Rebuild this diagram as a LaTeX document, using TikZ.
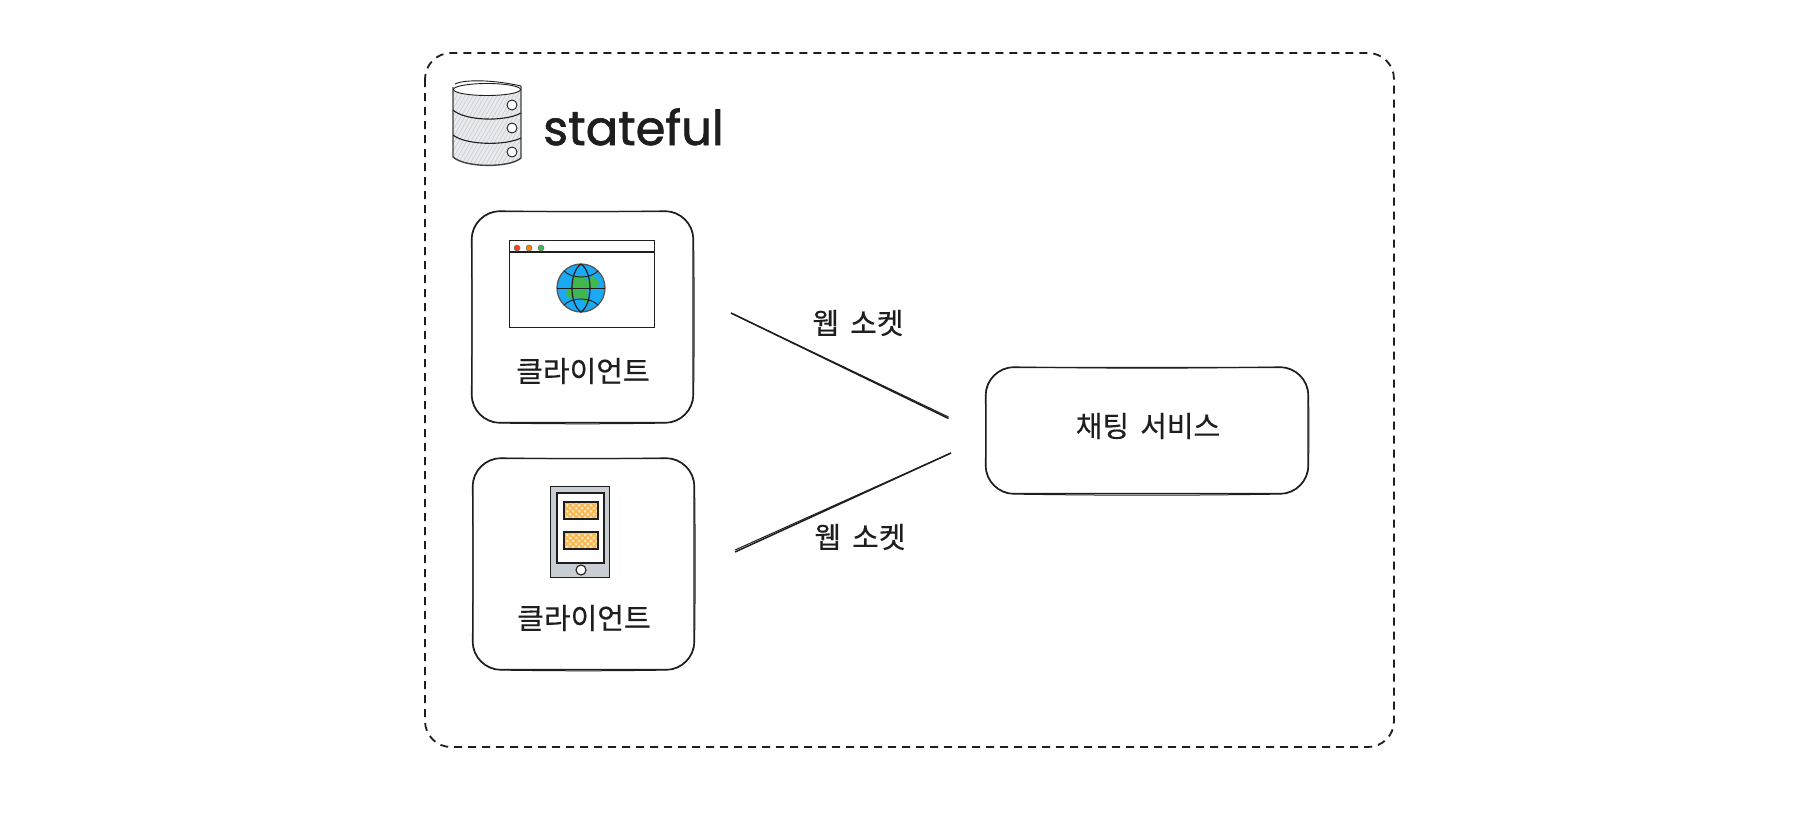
\documentclass[tikz,border=0pt]{standalone}
\usepackage{fontspec}
\setmainfont{Noto Sans CJK KR}[FakeBold=0.35,WordSpace=1.7]
\newfontfamily\handfont{Poppins}[FakeBold=1.3]
\usetikzlibrary{patterns.meta}
\definecolor{ink}{HTML}{1E1E1E}
\definecolor{grayfill}{HTML}{C9CED4}
\definecolor{skyfill}{HTML}{1AA9F4}
\definecolor{landfill}{HTML}{40B84F}
\definecolor{amberfill}{HTML}{F8B84E}
\tikzset{
  x=1pt,y=-1pt,
  sketch/.style={draw=ink,line width=1.2pt,rounded corners=28pt},
  overpass/.style={draw=ink,line width=1pt},
  cardbox/.style={sketch,minimum width=221pt,minimum height=211pt,inner sep=0pt},
  servicebox/.style={sketch,minimum width=322pt,minimum height=126pt,inner sep=0pt},
  zone/.style={draw=ink,line width=1.8pt,dash pattern=on 8pt off 6pt,rounded corners=26pt},
  label/.style={font=\fontsize{29}{33}\selectfont,text=ink,inner sep=0pt},
  wire/.style={draw=ink,line width=1.5pt},
  wirepass/.style={draw=ink,line width=1pt},
  icon/.style={draw=ink,line width=0.9pt},
}
% second, slightly bowed pen stroke round a named box
\newcommand{\roughbox}[1]{%
  \draw[overpass] ([xshift=28pt]#1.north west) to[bend right=0.9] ([xshift=-28pt]#1.north east)
    .. controls +(15,0) and +(0,-15) .. ([yshift=-28pt]#1.north east)
    to[bend left=0.7] ([yshift=28pt]#1.south east)
    .. controls +(0,15) and +(15,0) .. ([xshift=-28pt]#1.south east)
    to[bend left=0.8] ([xshift=28pt]#1.south west)
    .. controls +(-15,0) and +(0,15) .. ([yshift=28pt]#1.south west)
    to[bend right=0.6] ([yshift=-28pt]#1.north west)
    .. controls +(0,-15) and +(-15,0) .. ([xshift=28pt]#1.north west);
}
\begin{document}
\begin{tikzpicture}
\useasboundingbox (0,0) rectangle (1802,838);
\fill[white] (0,0) rectangle (1802,838);

% stateful zone
\draw[zone] (425,53) rectangle (1394,747);

% database icon
\fill[grayfill!40] (453,89) -- (453,157) .. controls (465,168) and (510,168) .. (521,158) -- (521,89) -- cycle;
\fill[pattern={Lines[angle=60,distance=3.5pt,line width=0.7pt]},pattern color=grayfill]
  (453,89) -- (453,157) .. controls (465,168) and (510,168) .. (521,158) -- (521,89) -- cycle;
\draw[icon,line width=1.4pt,draw=ink!85] (453,87) -- (453,157) .. controls (465,168) and (510,168) .. (521,158) -- (521,86);
\filldraw[icon,fill=white] (487,89.5) ellipse (33.5 and 6);
\draw[icon] (455,84) .. controls (465,79) and (495,80) .. (521,86);
\draw[icon,line width=1.1pt] (453,110) .. controls (465,121) and (505,122) .. (521,113);
\draw[icon,line width=1.1pt] (453,135) .. controls (465,145) and (505,146) .. (521,138);
\filldraw[icon,fill=white] (512,105) circle (5);
\filldraw[icon,fill=white] (512,128) circle (5);
\filldraw[icon,fill=white] (512,152) circle (5);
\node[font=\handfont\fontsize{48}{54}\selectfont,text=ink,inner sep=0pt,anchor=base west] (title) at (543,145) {stateful};

% client card 1
\node[cardbox] (clientA) at (582.5,317) {};
\roughbox{clientA}
\draw[icon] (509,240) rectangle (654,327);
\draw[icon,line width=1.2pt] (509,252) -- (654,252);
\filldraw[draw=ink!60,line width=0.6pt,fill=red!70!orange!90!white] (517,248) circle (3);
\filldraw[draw=ink!60,line width=0.6pt,fill=orange] (529,248) circle (3);
\filldraw[draw=ink!60,line width=0.6pt,fill=landfill] (541,248) circle (3);
\fill[skyfill] (581,288) circle (24);
\fill[landfill,rounded corners=2pt] (571,277) -- (581.7,275) -- (588.3,281.7) -- (592.7,275) -- (600,283.3) -- (594,289) -- (586,288) -- (589,304) -- (578.3,297.5) -- (569,299) -- (565,293.3) -- (571,287.3) -- cycle;
\draw[icon,draw=ink!75,line width=1.3pt] (581,288) circle (24);
\draw[icon,line width=1.2pt] (581,264) .. controls (569,272) and (569,304) .. (581,312) .. controls (593,304) and (593,272) .. (581,264);
\draw[icon] (557,288) -- (605,288);
\draw[icon] (564,271) .. controls (572,279) and (590,279) .. (598,271);
\draw[icon] (564,305) .. controls (572,297) and (590,297) .. (598,305);
\node[label] (clientAtext) at (583,371) {클라이언트};

% client card 2
\node[cardbox] (clientB) at (583.5,564) {};
\roughbox{clientB}
\filldraw[icon,fill=grayfill] (550,486) rectangle (609,577);
\filldraw[icon,fill=white,line width=1.2pt] (557,493) rectangle (604,563);
\fill[amberfill!35] (564,502) rectangle (598,519);
\fill[pattern={Hatch[angle=45,distance=4.2pt,line width=1.7pt]},pattern color=amberfill] (564,502) rectangle (598,519);
\draw[icon,line width=1.2pt] (564,502) rectangle (598,519);
\fill[amberfill!35] (564,532) rectangle (598,549);
\fill[pattern={Hatch[angle=45,distance=4.2pt,line width=1.7pt]},pattern color=amberfill] (564,532) rectangle (598,549);
\draw[icon,line width=1.2pt] (564,532) rectangle (598,549);
\filldraw[icon,fill=white,line width=1.1pt] (581,570) circle (5);
\node[label] (clientBtext) at (584,618) {클라이언트};

% chat service
\node[servicebox] (chat) at (1147,430.5) {};
\roughbox{chat}
\node[label] (chattext) at (1148,426) {채팅 서비스};

% web socket connectors
\coordinate (wsAfrom) at (731,313);
\coordinate (wsAto) at (948.5,418.5);
\coordinate (wsAtoPass) at (948.5,417);
\coordinate (wsBfrom) at (951,453);
\coordinate (wsBto) at (735,552);
\coordinate (wsBtoPass) at (735,550);
\draw[wire] (wsAfrom) -- (wsAto);
\draw[wirepass] (wsAfrom) -- (wsAtoPass);
\draw[wire] (wsBfrom) -- (wsBto);
\draw[wirepass] (wsBfrom) -- (wsBtoPass);
\node[label] (wsAtext) at (858,323) {웹 소켓};
\node[label] (wsBtext) at (860,537) {웹 소켓};
\end{tikzpicture}
\end{document}
